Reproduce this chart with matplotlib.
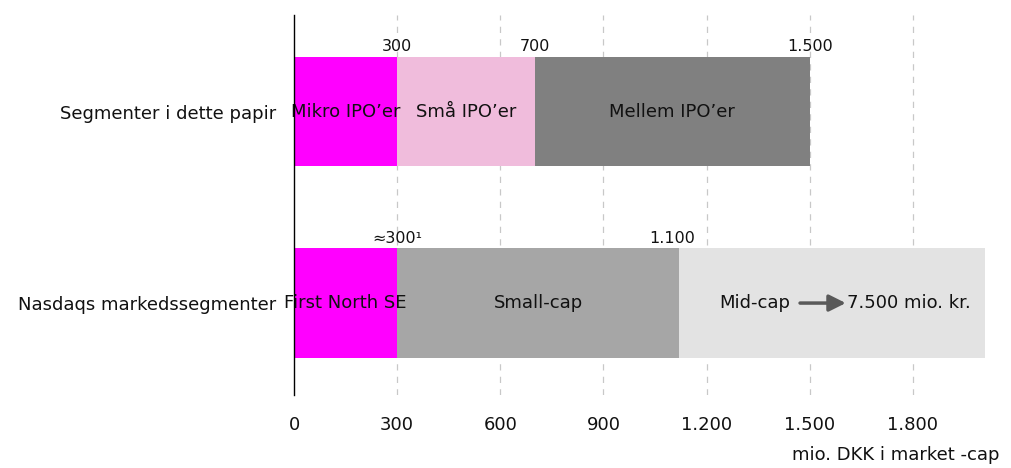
import matplotlib
matplotlib.use("Agg")
import matplotlib.pyplot as plt
from matplotlib.ticker import FuncFormatter

plt.rcParams['font.family'] = ['DejaVu Sans']

categories = ["Nasdaqs markedssegmenter", "Segmenter i dette papir"]
# segment boundaries (mio. DKK)
top_edges = [0, 300, 700, 1500]
top_names = ["Mikro IPO’er", "Små IPO’er", "Mellem IPO’er"]
top_colors = ["#FF00FF", "#F0BCDC", "#808080"]
top_marks = ["300", "700", "1.500"]

bot_edges = [0, 300, 1120, 2010]
bot_names = ["First North SE", "Small-cap", "Mid-cap"]
bot_colors = ["#FF00FF", "#A6A6A6", "#E3E3E3"]
bot_marks = ["≈300¹", "1.100"]

xticks = [0, 300, 600, 900, 1200, 1500, 1800]

fig = plt.figure(figsize=(10.11, 4.68), dpi=100)
ax = fig.add_axes([294/1011, 1-395/468, (985-294)/1011, 380/468])

h = 0.57
for y, edges, names, colors in [(1, top_edges, top_names, top_colors),
                                 (0, bot_edges, bot_names, bot_colors)]:
    for i in range(len(names)):
        ax.barh(y, edges[i+1]-edges[i], left=edges[i], height=h,
                color=colors[i], zorder=2)

tc = '#111111'
fs = 13
for i, n in enumerate(top_names):
    ax.text((top_edges[i]+top_edges[i+1])/2, 1, n, ha='center', va='center',
            fontsize=fs, color=tc, zorder=3)
ax.text(150, 0, bot_names[0], ha='center', va='center', fontsize=fs, color=tc, zorder=3)
ax.text(710, 0, bot_names[1], ha='center', va='center', fontsize=fs, color=tc, zorder=3)
ax.text(1340, 0, bot_names[2], ha='center', va='center', fontsize=fs, color=tc, zorder=3)
ax.annotate("", xy=(1605, 0), xytext=(1472, 0),
            arrowprops=dict(arrowstyle='-|>,head_length=1.0,head_width=0.5',
                            color='#595959', lw=2.5, shrinkA=0, shrinkB=0), zorder=3)
ax.text(1610, 0, "7.500 mio. kr.", ha='left', va='center', fontsize=fs, color=tc, zorder=3)

fs2 = 11.5
for x, t in zip(top_edges[1:], top_marks):
    ax.text(x, 1 + h/2 + 0.015, t, ha='center', va='bottom', fontsize=fs2, color=tc)
ax.text(300, h/2 + 0.015, bot_marks[0], ha='center', va='bottom', fontsize=fs2, color=tc)
ax.text(1100, h/2 + 0.015, bot_marks[1], ha='center', va='bottom', fontsize=fs2, color=tc)

ax.set_xlim(0, 2010)
ax.set_ylim(-0.48, 1.504)
ax.set_yticks([0, 1])
ax.set_yticklabels(categories, fontsize=fs, color=tc)
ax.set_xticks(xticks)
ax.xaxis.set_major_formatter(FuncFormatter(lambda v, p: f"{int(v):,}".replace(",", ".")))
ax.tick_params(axis='x', length=0, pad=15, labelsize=fs, labelcolor=tc)
ax.tick_params(axis='y', length=0, pad=13)
for x in xticks[1:]:
    ax.axvline(x, color='#C8C8C8', lw=0.9, ls=(0, (5, 5)), zorder=1)
for s in ['top', 'right', 'bottom']:
    ax.spines[s].set_visible(False)
ax.spines['left'].set_color('black')
ax.spines['left'].set_linewidth(1)
ax.spines['left'].set_zorder(4)

fig.text(1000/1011, 1-455/468, "mio. DKK i market -cap", ha='right', va='center', fontsize=fs, color=tc)

fig.savefig("out.png", dpi=100)
